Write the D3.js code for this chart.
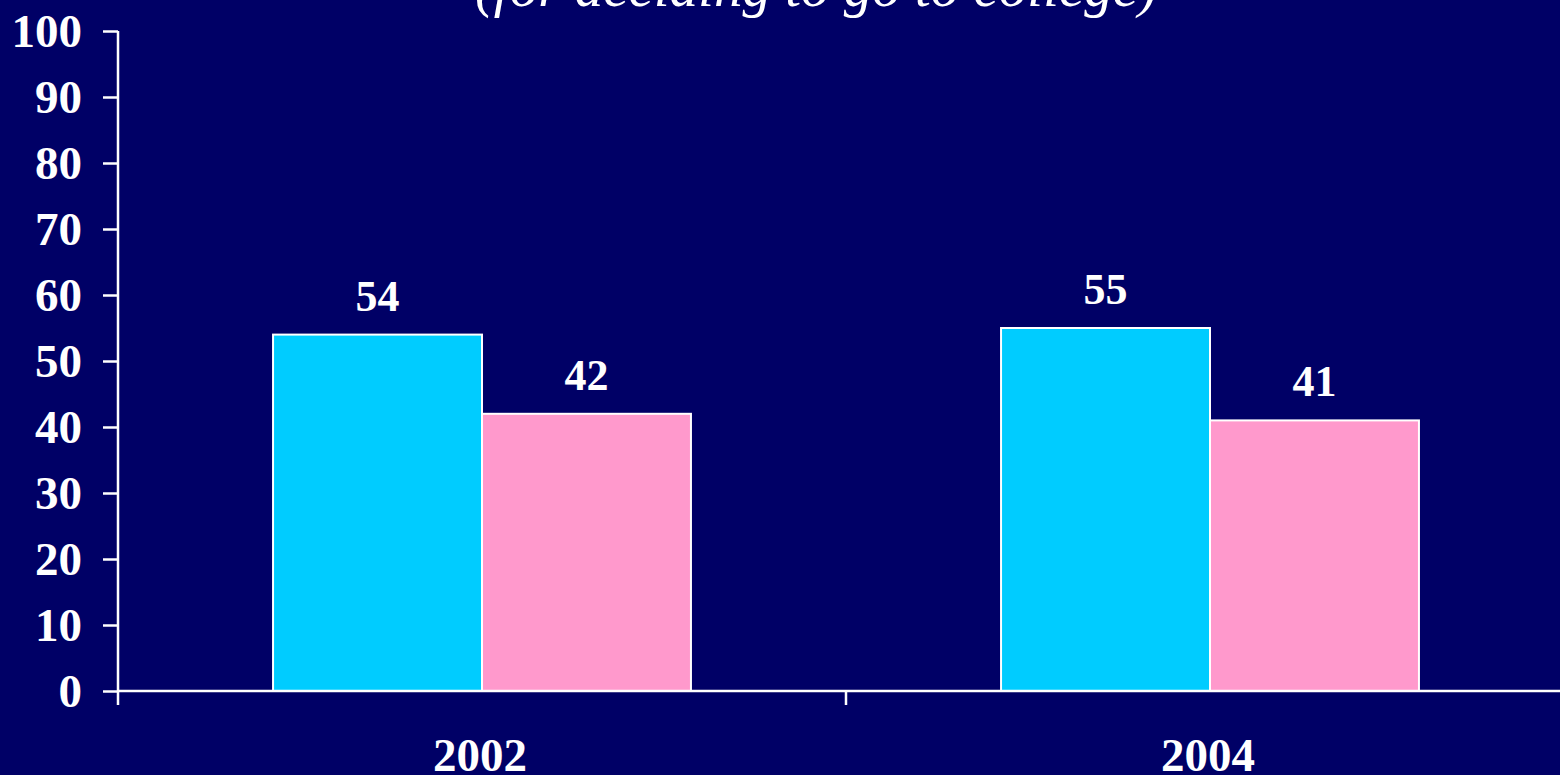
<!DOCTYPE html>
<html><head><meta charset="utf-8">
<script src="https://cdn.jsdelivr.net/npm/d3@7"></script>
<style>
html,body{margin:0;padding:0;background:#000066;overflow:hidden;}
svg{display:block;}
</style></head>
<body>
<svg id="chart" width="1560" height="775"></svg>
<script>
const categories = ["2002", "2004"];
const seriesNames = ["Series A", "Series B"];
const seriesA = [54, 55];
const seriesB = [42, 41];
const yTicks = [0, 10, 20, 30, 40, 50, 60, 70, 80, 90, 100];
const titleText = "(for deciding to go to college)";

const colors = ["#00CCFF", "#FF99CC"];
const W = 1560, H = 775;
const svg = d3.select("#chart");
svg.append("rect").attr("width", W).attr("height", H).attr("fill", "#000066");

const font = "'Liberation Serif','Times New Roman',serif";
const data = categories.map((c, i) => ({cat: c, vals: [seriesA[i], seriesB[i]]}));

const y = d3.scaleLinear().domain([0, 100]).range([691, 31]);
const x0 = d3.scaleBand().domain(categories).range([118, 1574]).paddingInner(0).paddingOuter(0);
const x1 = d3.scaleBand().domain(seriesNames).range([0, x0.bandwidth()]).paddingInner(0).paddingOuter(0.742);

// title (partially cut at top)
svg.append("text")
  .attr("x", 816).attr("y", 6)
  .attr("text-anchor", "middle")
  .attr("font-family", font).attr("font-style", "italic")
  .attr("font-size", 57).attr("fill", "#fff")
  .text(titleText);

// bars
const g = svg.append("g");
data.forEach(d => {
  d.vals.forEach((v, j) => {
    const bx = x0(d.cat) + x1(seriesNames[j]);
    g.append("rect")
      .attr("x", bx).attr("y", y(v))
      .attr("width", x1.bandwidth()).attr("height", y(0) - y(v))
      .attr("fill", colors[j]).attr("stroke", "#fff").attr("stroke-width", 2);
    g.append("text")
      .attr("x", bx + x1.bandwidth() / 2).attr("y", y(v) - 24)
      .attr("text-anchor", "middle")
      .attr("font-family", font).attr("font-weight", "bold")
      .attr("font-size", 44).attr("fill", "#fff")
      .text(v);
  });
});

// y axis
const yAxis = d3.axisLeft(y).tickValues(yTicks).tickSize(15).tickPadding(21).tickSizeOuter(0);
const ya = svg.append("g").attr("transform", "translate(118,0)").call(yAxis);
ya.select(".domain").remove();
ya.selectAll(".tick line").attr("stroke", "#fff").attr("stroke-width", 2.5);
ya.selectAll(".tick text").attr("fill", "#fff").attr("font-family", font)
  .attr("font-weight", "bold").attr("font-size", 47).attr("dy", "0.34em");
svg.append("line").attr("x1", 118).attr("x2", 118).attr("y1", 31).attr("y2", 705)
  .attr("stroke", "#fff").attr("stroke-width", 2.5);

// x axis
svg.append("line").attr("x1", 118).attr("x2", 1574).attr("y1", 691).attr("y2", 691)
  .attr("stroke", "#fff").attr("stroke-width", 2.5);
categories.slice(1).forEach(c => {
  svg.append("line").attr("x1", x0(c)).attr("x2", x0(c)).attr("y1", 691).attr("y2", 705)
    .attr("stroke", "#fff").attr("stroke-width", 2.5);
});
categories.forEach(c => {
  svg.append("text")
    .attr("x", x0(c) + x0.bandwidth() / 2 - 2).attr("y", 771)
    .attr("text-anchor", "middle")
    .attr("font-family", font).attr("font-weight", "bold")
    .attr("font-size", 47).attr("fill", "#fff")
    .text(c);
});
</script>
</body></html>
